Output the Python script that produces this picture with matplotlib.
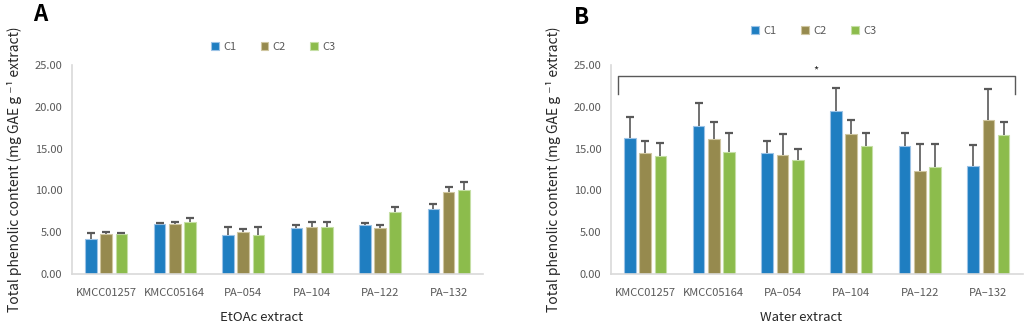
import matplotlib.pyplot as plt
import numpy as np

plt.rcParams['font.family'] = ['Noto Sans CJK KR', 'DejaVu Sans']

strains = ['KMCC01257', 'KMCC05164', 'PA\u2013054', 'PA\u2013104', 'PA\u2013122', 'PA\u2013132']
series = ['C1', 'C2', 'C3']

# EtOAc extract (mean, upper error)
etoac_c1 = [4.23, 6.00, 4.68, 5.52, 5.84, 7.78]
etoac_c2 = [4.84, 5.98, 5.00, 5.68, 5.48, 9.83]
etoac_c3 = [4.76, 6.25, 4.63, 5.68, 7.38, 10.07]
etoac_c1_err = [0.65, 0.08, 1.00, 0.32, 0.24, 0.56]
etoac_c2_err = [0.24, 0.22, 0.36, 0.49, 0.36, 0.61]
etoac_c3_err = [0.20, 0.44, 0.97, 0.57, 0.60, 0.93]

# Water extract
water_c1 = [16.26, 17.66, 14.50, 19.50, 15.35, 12.90]
water_c2 = [14.47, 16.14, 14.30, 16.79, 12.35, 18.42]
water_c3 = [14.10, 14.55, 13.60, 15.35, 12.80, 16.59]
water_c1_err = [2.52, 2.76, 1.45, 2.75, 1.51, 2.53]
water_c2_err = [1.48, 2.00, 2.49, 1.59, 3.20, 3.71]
water_c3_err = [1.57, 2.31, 1.35, 1.51, 2.75, 1.59]

colors = ['#1F7EC1', '#968A4E', '#8CBC4C']
edges = ['#9CC3E6', '#CFC6A0', '#C5DFA5']
grey = '#595959'

fig = plt.figure(figsize=(10.32, 3.3), dpi=100)
axA = fig.add_axes([0.0698, 0.1697, 0.398, 0.633])
axB = fig.add_axes([0.592, 0.1697, 0.399, 0.633])

def draw(ax, vals, errs, xlabel):
    x = np.arange(len(strains))
    w = 0.17
    step = 0.222
    for i in range(3):
        xs = x + (i - 1) * step
        top = np.array(vals[i]) + np.array(errs[i])
        ax.bar(xs, vals[i], w, color=colors[i], edgecolor=edges[i],
               linewidth=0.8, label=series[i], zorder=2)
        # upper error bars only
        ax.vlines(xs, vals[i], top, color=grey, lw=1.2, zorder=3)
        ax.scatter(xs, top, marker='_', s=40, color=grey, linewidths=1.6, zorder=3)
    ax.set_xlim(-0.5, len(strains) - 0.5)
    ax.set_ylim(0, 25)
    ax.set_yticks(np.arange(0, 26, 5))
    ax.set_yticklabels(['%.2f' % v for v in np.arange(0, 26, 5)])
    ax.set_xticks(x)
    ax.set_xticklabels(strains)
    ax.tick_params(axis='both', length=0, labelsize=8, colors=grey, pad=7)
    ax.tick_params(axis='x', pad=10)
    for s in ['top', 'right']:
        ax.spines[s].set_visible(False)
    for s in ['left', 'bottom']:
        ax.spines[s].set_color('#D9D9D9')
        ax.spines[s].set_linewidth(1.2)
    ax.set_xlabel(xlabel, fontsize=9.5, color='#262626')
    ax.xaxis.set_label_coords(0.461, -0.178)
    ax.set_ylabel('Total phenolic content (mg GAE g \u207b\u00b9 extract)', fontsize=10,
                  color='#262626', labelpad=9)

draw(axA, [etoac_c1, etoac_c2, etoac_c3], [etoac_c1_err, etoac_c2_err, etoac_c3_err], 'EtOAc extract')
draw(axB, [water_c1, water_c2, water_c3], [water_c1_err, water_c2_err, water_c3_err], 'Water extract')

leg_kw = dict(ncol=3, frameon=False, fontsize=8, handlelength=0.7, handleheight=0.7,
              columnspacing=2.2, handletextpad=0.4, labelcolor=grey)
axA.legend(loc='center', bbox_to_anchor=(0.49, 1.086), **leg_kw)
axB.legend(loc='center', bbox_to_anchor=(0.493, 1.163), **leg_kw)

# significance bracket on panel B
axB.plot([-0.39, -0.39, 5.39, 5.39], [21.6, 23.65, 23.65, 21.6], color=grey, lw=1.0,
         clip_on=False, zorder=4)
axB.text(2.48, 23.8, '*', ha='center', va='bottom', fontsize=8, color='#262626')

fig.text(0.032, 0.955, 'A', fontsize=16, fontweight='bold', va='center')
fig.text(0.556, 0.948, 'B', fontsize=16, fontweight='bold', va='center')

fig.savefig('out.png', dpi=100)
